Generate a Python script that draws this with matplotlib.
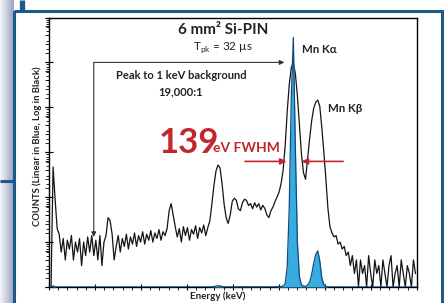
import numpy as np
import matplotlib
matplotlib.use("Agg")
import matplotlib.pyplot as plt
from matplotlib.patches import Rectangle
from matplotlib.colors import LinearSegmentedColormap
from matplotlib.ticker import FixedLocator, AutoMinorLocator, LogLocator, NullFormatter

plt.rcParams['font.family'] = ['Lato', 'DejaVu Sans']
plt.rcParams['mathtext.fontset'] = 'custom'
plt.rcParams['mathtext.rm'] = 'Lato'
plt.rcParams['mathtext.bf'] = 'Lato:bold'

# Mn-55 spectrum, 0.05 keV channels starting at -0.05 keV
e_start = -0.05
e_step = 0.05
counts = [
    1, 470, 90, 20,
    15, 6, 12, 4, 11, 7, 14, 4, 10, 6, 12, 3, 10, 5, 13, 6, 14, 5, 11, 4, 14, 3, 10,
    14, 35, 30, 15, 4,
    8, 14, 6, 12, 8, 15, 7, 13, 9, 16, 8, 14, 10, 17, 9, 15, 11, 18, 10, 16, 12, 19, 11, 17,
    14, 20, 50, 72, 40, 22,
    13, 20, 10, 22, 14, 21, 11, 19, 15, 23, 12, 21, 16, 24, 14, 21,
    30, 70, 180, 380, 520, 450, 200, 70, 35, 26,
    40, 80, 95, 85, 55, 50, 75, 90, 85, 65, 72, 55, 75, 60, 72, 52, 66,
    56, 40, 35, 50, 60, 80, 100, 130, 200, 400,
    1400, 8000, 32000, 76000, 100000, 56000, 18000, 4000, 900, 350, 250,
    700, 2000, 5000, 9500, 13000, 14500, 10500, 3500, 1000, 250, 56,
    22, 16, 13, 14, 9, 10, 7, 8, 5, 6, 3, 5, 2, 4, 1, 4, 2, 3, 1, 5, 2, 1,
    4, 2, 3, 1, 4, 2, 1, 3, 5, 1, 2, 3, 1, 4, 2, 1, 3, 2, 1, 4, 2,
]
energy = e_start + e_step * np.arange(len(counts))

xlim = (-0.1, 8.93)
red = '#c1272d'
frame = '#1b5a87'
ink = '#222222'

fig = plt.figure(figsize=(4.44, 3.03), dpi=100)

# background: panel frame and shading (pixel coords)
bg = fig.add_axes([0, 0, 1, 1], zorder=-5)
bg.set_xlim(0, 444)
bg.set_ylim(303, 0)
bg.axis('off')
shade = LinearSegmentedColormap.from_list('shade', ['#f4f5fa', '#9aa2c2'])
bg.imshow(np.linspace(0, 1, 50).reshape(1, -1), cmap=shade, aspect='auto',
          extent=(0, 13, 303, 0))
bg.add_patch(Rectangle((14, 11), 428, 300, fill=False, ec=frame, lw=2.2))
bg.plot([21.5, 21.5], [0, 10], color=frame, lw=3.8, solid_capstyle='butt')
bg.plot([0, 13], [180.5, 180.5], color=frame, lw=2.2, solid_capstyle='butt')

# log (black) axis
ax = fig.add_axes([49 / 444, 16 / 303, 367.7 / 444, 269.5 / 303])
ax.plot(energy, counts, color='#141414', lw=0.9)
ax.set_yscale('log')
ax.set_ylim(1, 1e6)
ax.set_xlim(*xlim)
ax.yaxis.tick_right()
ax.yaxis.set_major_locator(LogLocator(base=10, numticks=10))
ax.yaxis.set_minor_locator(LogLocator(base=10, subs=np.arange(2, 10), numticks=10))
ax.yaxis.set_major_formatter(NullFormatter())
ax.yaxis.set_minor_formatter(NullFormatter())
ax.tick_params(axis='y', which='major', direction='out', length=3, width=0.8)
ax.tick_params(axis='y', which='minor', direction='out', length=2, width=0.6)
ax.xaxis.set_major_locator(FixedLocator(np.linspace(xlim[0], xlim[1], 9)))
ax.xaxis.set_minor_locator(AutoMinorLocator(5))
ax.xaxis.set_major_formatter(NullFormatter())
ax.tick_params(axis='x', which='major', direction='inout', length=5, width=0.8)
ax.tick_params(axis='x', which='minor', direction='out', length=2.5, width=0.6)
for s in ax.spines.values():
    s.set_linewidth(1.0)

# arrows for peak-to-background
arrow_kw = dict(arrowstyle='-|>', color='#333333', lw=0.8, mutation_scale=7,
                shrinkA=0, shrinkB=0)
ax.annotate('', xy=(1.0, 13), xytext=(1.0, 1e5), arrowprops=arrow_kw)
ax.annotate('', xy=(5.68, 1e5), xytext=(1.0, 1e5), arrowprops=arrow_kw)

# linear (blue) axis
axl = ax.twinx()
axl.fill_between(energy, counts, 0, color='#38ace0', lw=0)
axl.plot(energy, counts, color='#0f4a7e', lw=0.9)
axl.set_ylim(0, 108000)
axl.set_xlim(*xlim)
axl.yaxis.tick_left()
axl.yaxis.set_major_locator(FixedLocator(np.linspace(0, 108000, 7)))
axl.yaxis.set_minor_locator(AutoMinorLocator(5))
axl.yaxis.set_major_formatter(NullFormatter())
axl.tick_params(axis='y', which='major', direction='inout', length=6, width=0.8)
axl.tick_params(axis='y', which='minor', direction='out', length=3, width=0.6)
axl.tick_params(axis='y', which='both', right=False, labelright=False)
for s in axl.spines.values():
    s.set_visible(False)

t = axl.transAxes
axl.text(0.473, 0.955, '6 mm² Si-PIN', transform=t, ha='center', va='center',
         fontsize=11, fontweight='bold', color=ink)
axl.text(0.473, 0.887, r'T$_{\rm pk}$ = 32 µs', transform=t, ha='center', va='center',
         fontsize=8.5, color=ink)
axl.text(0.359, 0.784, 'Peak to 1 keV background', transform=t, ha='center', va='center',
         fontsize=8, fontweight='bold', color=ink)
axl.text(0.359, 0.725, '19,000:1', transform=t, ha='center', va='center',
         fontsize=8, fontweight='bold', color=ink)
axl.text(0.688, 0.882, 'Mn Kα', transform=t, ha='left', va='center',
         fontsize=8.3, fontweight='bold', color=ink)
axl.text(0.759, 0.663, 'Mn Kβ', transform=t, ha='left', va='center',
         fontsize=8.3, fontweight='bold', color=ink)
axl.text(0.299, 0.498, '139', transform=t, ha='left', va='baseline',
         fontsize=25, fontweight='bold', color=red)
axl.text(0.446, 0.502, 'eV FWHM', transform=t, ha='left', va='baseline',
         fontsize=10, fontweight='bold', color=red)

red_kw = dict(arrowstyle='-|>', color=red, lw=1.2, mutation_scale=9,
              shrinkA=0, shrinkB=0)
axl.annotate('', xy=(0.646, 0.466), xytext=(0.533, 0.466), xycoords=t,
             textcoords=t, arrowprops=red_kw)
axl.annotate('', xy=(0.687, 0.466), xytext=(0.800, 0.466), xycoords=t,
             textcoords=t, arrowprops=red_kw)

fig.text(37.5 / 444, 1 - 146 / 303, 'COUNTS (Linear in Blue, Log in Black)',
         rotation=90, ha='center', va='center', fontsize=6.8, fontweight='bold',
         color=ink)
fig.text(217.5 / 444, 1 - 296 / 303, 'Energy (keV)', ha='center', va='center',
         fontsize=7, fontweight='bold', color=ink)

fig.savefig('out.png', dpi=100)
